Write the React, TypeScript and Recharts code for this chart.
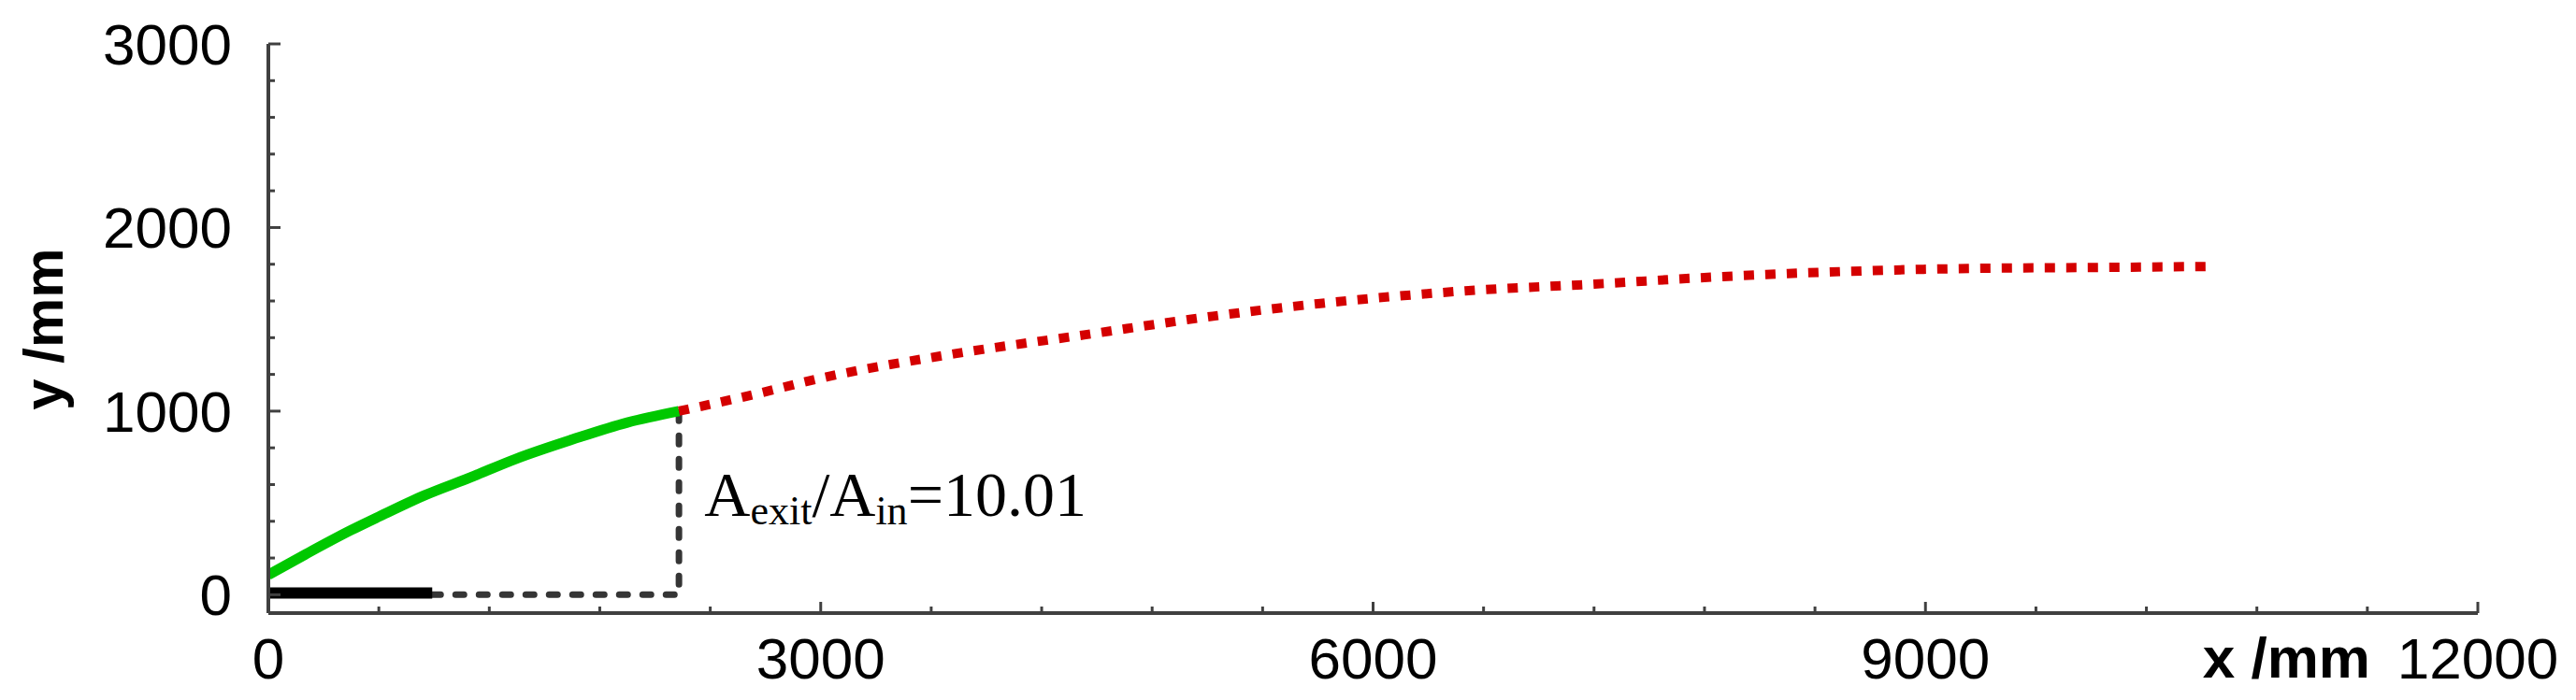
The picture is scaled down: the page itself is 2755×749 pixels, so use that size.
import React from "react";
import { LineChart, Line, XAxis, YAxis, ReferenceDot } from "recharts";

// ---- data ----
const inletBar = [
  { x: 0, y: 10 },
  { x: 890, y: 10 },
];
const guideDashed = [
  { x: 890, y: 0 },
  { x: 2230, y: 0 },
  { x: 2230, y: 1000 },
];
const nozzleGreen = [
  { x: 0, y: 108 },
  { x: 200, y: 219 },
  { x: 450, y: 352 },
  { x: 600, y: 425 },
  { x: 850, y: 542 },
  { x: 1100, y: 640 },
  { x: 1350, y: 742 },
  { x: 1650, y: 845 },
  { x: 1950, y: 938 },
  { x: 2230, y: 1000 },
];
const plumeRed = [
  { x: 2230, y: 1000 },
  { x: 2600, y: 1082 },
  { x: 3030, y: 1186 },
  { x: 3730, y: 1313 },
  { x: 4430, y: 1415 },
  { x: 5130, y: 1517 },
  { x: 5700, y: 1585 },
  { x: 6500, y: 1655 },
  { x: 7200, y: 1692 },
  { x: 7900, y: 1733 },
  { x: 8600, y: 1762 },
  { x: 9170, y: 1776 },
  { x: 10000, y: 1783 },
  { x: 10550, y: 1788 },
];
const xTicks = [0, 600, 1200, 1800, 2400, 3000, 3600, 4200, 4800, 5400, 6000, 6600, 7200, 7800, 8400, 9000, 9600, 10200, 10800, 11400, 12000];
const xLabelTicks = [0, 3000, 6000, 9000, 12000];
const yTicks = [0, 200, 400, 600, 800, 1000, 1200, 1400, 1600, 1800, 2000, 2200, 2400, 2600, 2800, 3000];
const yLabelTicks = [0, 1000, 2000, 3000];
const annotation = { x: 2368, y: 431, main: "A", sub1: "exit", mid: "/A", sub2: "in", tail: "=10.01" };

const AXIS = "#404040";
const SANS = "'Liberation Sans', Arial, sans-serif";
const SERIF = "'Liberation Serif', 'Times New Roman', serif";

function XTick(props: any) {
  const { x, y, payload } = props;
  const v = payload.value;
  const major = xLabelTicks.includes(v);
  return (
    <g>
      <line x1={x} x2={x} y1={y} y2={y - (major ? 12 : 7)} stroke={AXIS} strokeWidth={3} />
      {major && (
        <text x={x} y={y + 70} textAnchor="middle" fontFamily={SANS} fontSize={62} fill="#000">
          {v}
        </text>
      )}
      {v === 12000 && (
        <text x={x - 115} y={y + 69} textAnchor="end" fontFamily={SANS} fontSize={62} fontWeight="bold" fill="#000">
          x /mm
        </text>
      )}
    </g>
  );
}

function YTick(props: any) {
  const { x, y, payload } = props;
  const v = payload.value;
  const major = yLabelTicks.includes(v);
  return (
    <g>
      <line x1={x} x2={x + (major ? 13 : 7)} y1={y} y2={y} stroke={AXIS} strokeWidth={3} />
      {major && (
        <text x={x - 39} y={y + 22} textAnchor="end" fontFamily={SANS} fontSize={62} fill="#000">
          {v}
        </text>
      )}
    </g>
  );
}

function AnnotationText(props: any) {
  const { cx, cy } = props;
  return (
    <text x={cx} y={cy} fontFamily={SERIF} fontSize={68} fill="#000">
      {annotation.main}
      <tspan fontSize={44} dy={9}>{annotation.sub1}</tspan>
      <tspan fontSize={68} dy={-9}>{annotation.mid}</tspan>
      <tspan fontSize={44} dy={9}>{annotation.sub2}</tspan>
      <tspan fontSize={68} dy={-9}>{annotation.tail}</tspan>
    </text>
  );
}

export default function App() {
  return (
    <div style={{ width: 2739, height: 733 }}>
      <LineChart width={2739} height={733} margin={{ top: 39, right: 97, bottom: 0, left: 0 }}>
        <XAxis
          type="number"
          dataKey="x"
          domain={[0, 12000]}
          ticks={xTicks}
          interval={0}
          height={85}
          tickSize={0}
          tickMargin={0}
          tickLine={false}
          axisLine={{ stroke: AXIS, strokeWidth: 4 }}
          tick={<XTick />}
          allowDataOverflow
        />
        <YAxis
          type="number"
          domain={[-100, 3000]}
          ticks={yTicks}
          interval={0}
          width={279}
          tickSize={0}
          tickMargin={0}
          tickLine={false}
          axisLine={{ stroke: AXIS, strokeWidth: 4 }}
          tick={<YTick />}
          allowDataOverflow
        />
        <text
          x={59}
          y={344}
          transform="rotate(-90, 59, 344)"
          textAnchor="middle"
          fontFamily={SANS}
          fontSize={60}
          fontWeight="bold"
          fill="#000"
        >
          y /mm
        </text>
        <Line
          data={guideDashed}
          dataKey="y"
          type="linear"
          stroke="#353535"
          strokeWidth={7}
          strokeDasharray="9 16"
          strokeLinecap="round"
          dot={false}
          isAnimationActive={false}
        />
        <Line
          data={inletBar}
          dataKey="y"
          type="linear"
          stroke="#000"
          strokeWidth={12}
          dot={false}
          isAnimationActive={false}
        />
        <Line
          data={nozzleGreen}
          dataKey="y"
          type="monotone"
          stroke="#00c800"
          strokeWidth={11}
          dot={false}
          isAnimationActive={false}
        />
        <Line
          data={plumeRed}
          dataKey="y"
          type="monotone"
          stroke="#d40000"
          strokeWidth={10}
          strokeDasharray="11 12"
          dot={false}
          isAnimationActive={false}
        />
        <ReferenceDot x={annotation.x} y={annotation.y} r={0} shape={<AnnotationText />} />
      </LineChart>
    </div>
  );
}
